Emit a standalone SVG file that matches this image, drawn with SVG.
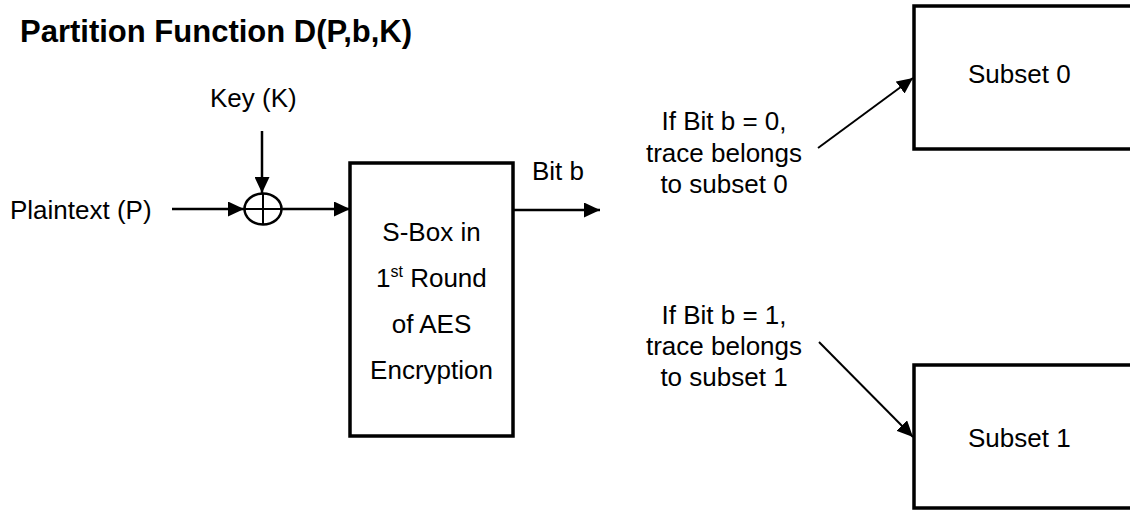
<svg xmlns="http://www.w3.org/2000/svg" width="1130" height="510" viewBox="0 0 1130 510">
<style>
text{font-family:"Liberation Sans",Arial,sans-serif;font-size:26px;fill:#000}
.title{font-size:31px;font-weight:bold}
.mid{text-anchor:middle}
.box{fill:#fff;stroke:#000;stroke-width:3.5}
.conn{stroke:#000;stroke-width:2.5;fill:none}
.diag{stroke:#000;stroke-width:2;fill:none}
</style>
<defs>
<marker id="ah" markerUnits="userSpaceOnUse" markerWidth="17" markerHeight="15" refX="16" refY="7.5" orient="auto">
<path d="M0,0 L16,7.5 L0,15 z" fill="#000"/>
</marker>
</defs>
<rect width="1130" height="510" fill="#fff"/>
<text class="title" x="20" y="42">Partition Function D(P,b,K)</text>

<g id="key"><text x="210" y="107">Key (K)</text></g>
<g id="plaintext"><text x="10" y="219">Plaintext (P)</text></g>
<g id="xor">
<ellipse cx="263" cy="209" rx="18.5" ry="15.5" fill="#fff" stroke="#000" stroke-width="2.5"/>
<line x1="263" y1="193.5" x2="263" y2="224.5" stroke="#000" stroke-width="2"/>
<line x1="244.5" y1="209" x2="281.5" y2="209" stroke="#000" stroke-width="2"/>
</g>
<g id="sbox">
<rect class="box" x="350" y="163" width="163" height="273"/>
<text class="mid" x="431.5" y="241">S-Box in</text>
<text x="376" y="287">1<tspan dy="-10" font-size="16">st</tspan><tspan dy="10"> Round</tspan></text>
<text class="mid" x="431.5" y="333">of AES</text>
<text class="mid" x="431.5" y="379">Encryption</text>
</g>
<g id="bitb"><text x="532" y="180">Bit b</text></g>
<g id="label0">
<text class="mid" x="724" y="130">If Bit b = 0,</text>
<text class="mid" x="724" y="162">trace belongs</text>
<text class="mid" x="724" y="193">to subset 0</text>
</g>
<g id="label1">
<text class="mid" x="724" y="324">If Bit b = 1,</text>
<text class="mid" x="724" y="355">trace belongs</text>
<text class="mid" x="724" y="386">to subset 1</text>
</g>
<g id="subset0">
<rect class="box" x="914" y="6" width="230" height="143"/>
<text x="968" y="83">Subset 0</text>
</g>
<g id="subset1">
<rect class="box" x="914" y="365" width="230" height="143"/>
<text x="968" y="447">Subset 1</text>
</g>
<g id="connectors">
<line class="conn" x1="262" y1="131" x2="262" y2="193" marker-end="url(#ah)"/>
<line class="conn" x1="172" y1="209" x2="244" y2="209" marker-end="url(#ah)"/>
<line class="conn" x1="282" y1="209" x2="350" y2="209" marker-end="url(#ah)"/>
<line class="conn" x1="513" y1="210" x2="600" y2="210" marker-end="url(#ah)"/>
<line class="diag" x1="818" y1="148" x2="913" y2="78" marker-end="url(#ah)"/>
<line class="diag" x1="819" y1="342" x2="913" y2="437" marker-end="url(#ah)"/>
</g>
</svg>
